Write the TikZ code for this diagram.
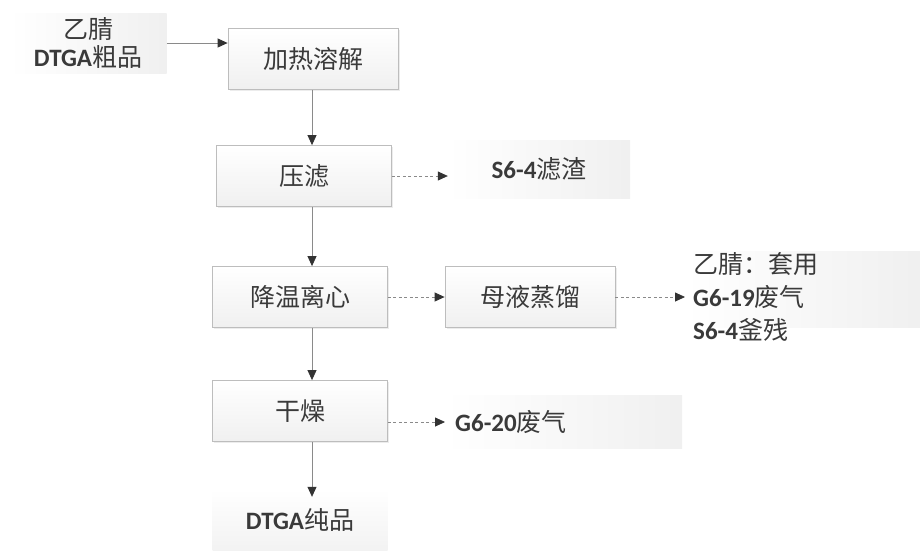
\documentclass[tikz,border=0pt]{standalone}
\usepackage{fontspec}
\setmainfont{Carlito}
\newfontfamily\cjk{Noto Sans CJK SC}[Scale=1.0]
\usetikzlibrary{arrows.meta,positioning,calc,shadows}
\definecolor{txt}{HTML}{3A3A3A}
\definecolor{bord}{HTML}{BDBDBD}
\definecolor{lin}{HTML}{8A8A8A}
\definecolor{tip}{HTML}{333333}
\newcommand{\la}[1]{{\bfseries #1}}
\tikzset{
  procbox/.style={draw=bord, line width=0.8pt, top color=white, bottom color=gray!12,
    minimum width=175pt, minimum height=61pt, inner sep=0pt, text=txt, font=\fontsize{25}{30}\selectfont,
    drop shadow={shadow xshift=1.5pt, shadow yshift=-1.5pt, opacity=0.15}},
  outbox/.style={left color=white, right color=gray!12, draw=none, inner sep=0pt, text=txt,
    font=\fontsize{25}{30}\selectfont},
  arr/.style={lin, line width=0.8pt, -{Triangle[length=10pt,width=9pt,color=tip]}},
  darr/.style={arr, dash pattern=on 3pt off 2.5pt},
}
\begin{document}
\begin{tikzpicture}[x=1pt,y=-1pt]
\useasboundingbox[fill=white] (0,0) rectangle (920,550);
% input
\node[outbox, minimum width=157pt, minimum height=60pt, align=center] (in) at (88,43)
  {{\cjk 乙腈}\\[-2pt]\la{DTGA}{\cjk 粗品}};
% process boxes
\node[procbox, minimum width=170pt] (jr) at (313,59) {\cjk 加热溶解};
\node[procbox] (yl) at (304,176) {\cjk 压滤};
\node[procbox] (jw) at (300,297) {\cjk 降温离心};
\node[procbox, minimum width=170pt] (my) at (530,297) {\cjk 母液蒸馏};
\node[procbox] (gz) at (300,411) {\cjk 干燥};
% outputs
\node[outbox, minimum width=182pt, minimum height=58pt] (s64) at (539,169) {\la{S6-4}{\cjk 滤渣}};
\node[outbox, minimum width=237pt, minimum height=53pt, anchor=west] (g620) at (445,422) {};
\node[anchor=west, text=txt, font=\fontsize{25}{30}\selectfont, inner sep=0pt] (g620t) at (455,422) {\la{G6-20}{\cjk 废气}};
\node[outbox, minimum width=235pt, minimum height=76pt, anchor=west] (rec) at (685,289) {};
\node[anchor=west, align=left, text=txt, font=\fontsize{25}{33}\selectfont, inner sep=0pt] (rect) at (693,297)
  {{\cjk 乙腈：套用}\\\la{G6-19}{\cjk 废气}\\\la{S6-4}{\cjk 釜残}};
\node[outbox, minimum width=175pt, minimum height=62pt, top color=white, bottom color=gray!10] (pure) at (300,520) {\la{DTGA}{\cjk 纯品}};
% axis
\coordinate (ax) at (312,0);
% connectors
\draw[arr] (in.east) -- (jr.west |- in.east);
\draw[arr] (jr.south -| ax) -- (yl.north -| ax);
\draw[arr] (yl.south -| ax) -- (jw.north -| ax);
\draw[arr] (jw.south -| ax) -- (gz.north -| ax);
\draw[arr] (gz.south -| ax) -- ($(pure.north -| ax)+(0,8)$);
\draw[darr] (yl.east) -- (s64.west |- yl.east);
\draw[darr] (jw.east) -- (my.west);
\draw[darr] (my.east) -- (rec.west |- my.east);
\draw[darr] (gz.east |- g620.west) -- (g620.west);
\end{tikzpicture}
\end{document}
